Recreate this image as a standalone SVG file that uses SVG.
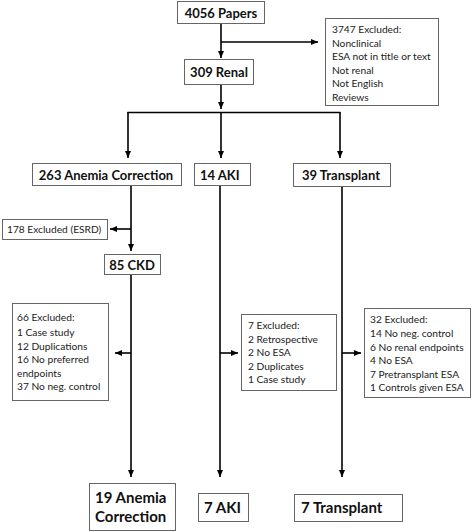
<svg xmlns="http://www.w3.org/2000/svg" width="472" height="532" viewBox="0 0 472 532">
<style>
.box{fill:#fff;stroke:#666;stroke-width:1}
.h{font-family:Lato,"Liberation Sans",sans-serif;font-weight:bold;font-size:13px;fill:#111}
.f{font-family:Lato,"Liberation Sans",sans-serif;font-weight:bold;font-size:15px;fill:#111}
.t{font-family:Lato,"Liberation Sans",sans-serif;font-size:10.2px;fill:#222}
.c{fill:none;stroke:#000;stroke-width:1.6}
</style>
<defs>
<marker id="a" markerUnits="userSpaceOnUse" markerWidth="8" markerHeight="8" viewBox="0 0 8 8" refX="7" refY="4" orient="auto">
<path d="M0,1 L7,4 L0,7 Z" fill="#000"/>
</marker>
</defs>
<rect width="472" height="532" fill="#fff"/>
<g id="connectors">
<path class="c" d="M221 24 V58" marker-end="url(#a)"/>
<path class="c" d="M221 42 H318" marker-end="url(#a)"/>
<path class="c" d="M221 85 V109" marker-end="url(#a)"/>
<path class="c" d="M127.5 112.5 H340.5"/>
<path class="c" d="M128 112 V158" marker-end="url(#a)"/>
<path class="c" d="M221 112 V158" marker-end="url(#a)"/>
<path class="c" d="M340 112 V158" marker-end="url(#a)"/>
<path class="c" d="M131 185 V251" marker-end="url(#a)"/>
<path class="c" d="M131 229 H110" marker-end="url(#a)"/>
<path class="c" d="M131 274 V477" marker-end="url(#a)"/>
<path class="c" d="M131 353 H115" marker-end="url(#a)"/>
<path class="c" d="M220 185 V477" marker-end="url(#a)"/>
<path class="c" d="M220 353 H238" marker-end="url(#a)"/>
<path class="c" d="M342 186 V477" marker-end="url(#a)"/>
<path class="c" d="M342 353 H361" marker-end="url(#a)"/>
</g>
<g id="papers"><rect class="box" x="177.5" y="1.5" width="87" height="22"/><text class="h" x="221" y="17.5" text-anchor="middle">4056 Papers</text></g>
<g id="excl1"><rect class="box" x="325.5" y="18.5" width="113" height="87"/>
<text class="t" x="332" y="33">3747 Excluded:</text>
<text class="t" x="332" y="46.5">Nonclinical</text>
<text class="t" x="332" y="60">ESA not in title or text</text>
<text class="t" x="332" y="73.5">Not renal</text>
<text class="t" x="332" y="87">Not English</text>
<text class="t" x="332" y="100.5">Reviews</text></g>
<g id="renal"><rect class="box" x="184.5" y="59.5" width="69" height="25"/><text class="h" x="219" y="76.5" text-anchor="middle">309 Renal</text></g>
<g id="anemia"><rect class="box" x="32.5" y="163.5" width="149" height="22"/><text class="h" x="106" y="179.5" text-anchor="middle">263 Anemia Correction</text></g>
<g id="aki"><rect class="box" x="194.5" y="163.5" width="56" height="22"/><text class="h" x="200" y="179.5">14 AKI</text></g>
<g id="transplant"><rect class="box" x="293.5" y="163.5" width="97" height="23"/><text class="h" x="341" y="180" text-anchor="middle">39 Transplant</text></g>
<g id="esrd"><rect class="box" x="2.5" y="219.5" width="105" height="20"/><text class="t" x="7" y="233">178 Excluded (ESRD)</text></g>
<g id="ckd"><rect class="box" x="104.5" y="254.5" width="56" height="20"/><text class="h" x="132" y="269.5" text-anchor="middle">85 CKD</text></g>
<g id="excl2"><rect class="box" x="12.5" y="303.5" width="96" height="97"/>
<text class="t" x="17" y="321">66 Excluded:</text>
<text class="t" x="17" y="336">1 Case study</text>
<text class="t" x="17" y="349.5">12 Duplications</text>
<text class="t" x="17" y="363">16 No preferred</text>
<text class="t" x="17" y="376.5">endpoints</text>
<text class="t" x="17" y="390">37 No neg. control</text></g>
<g id="excl3"><rect class="box" x="241.5" y="314.5" width="95" height="76"/>
<text class="t" x="248" y="329">7 Excluded:</text>
<text class="t" x="248" y="342.5">2 Retrospective</text>
<text class="t" x="248" y="356">2 No ESA</text>
<text class="t" x="248" y="369.5">2 Duplicates</text>
<text class="t" x="248" y="383">1 Case study</text></g>
<g id="excl4"><rect class="box" x="364.5" y="308.5" width="106" height="89"/>
<text class="t" x="370" y="323">32 Excluded:</text>
<text class="t" x="370" y="337">14 No neg. control</text>
<text class="t" x="370" y="350.5">6 No renal endpoints</text>
<text class="t" x="370" y="364">4 No ESA</text>
<text class="t" x="370" y="377.5">7 Pretransplant ESA</text>
<text class="t" x="370" y="391">1 Controls given ESA</text></g>
<g id="final-anemia"><rect class="box" x="89.5" y="483.5" width="86" height="47"/>
<text class="f" x="95" y="502.5">19 Anemia</text>
<text class="f" x="95" y="521.5">Correction</text></g>
<g id="final-aki"><rect class="box" x="198.5" y="493.5" width="50" height="28"/><text class="f" x="204" y="512.5">7 AKI</text></g>
<g id="final-transplant"><rect class="box" x="294.5" y="494.5" width="108" height="27"/><text class="f" x="301" y="513">7 Transplant</text></g>
</svg>
